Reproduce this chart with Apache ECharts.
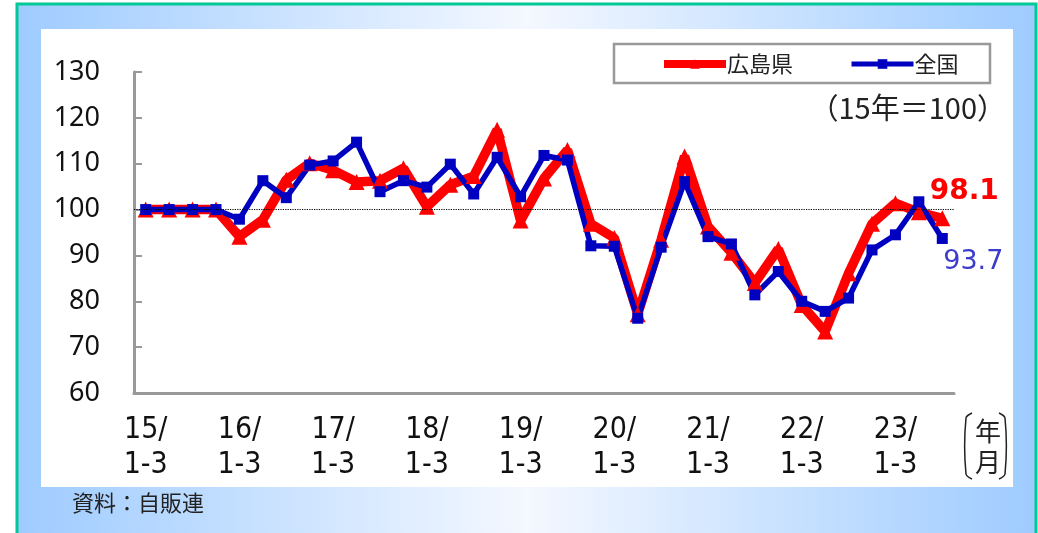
<!doctype html>
<html>
<head>
    <meta charset="utf-8">
    <title>新車登録台数</title>
    <script src="https://cdn.jsdelivr.net/npm/echarts@6/dist/echarts.min.js"></script>
    <style>
        body { margin: 0; background: #fff; }
        #main { width: 1038px; height: 533px; }
    </style>
</head>
<body>
    <div id="main"></div>
</body>
<script type="text/javascript">
    // 年・四半期
    var years = ['15', '16', '17', '18', '19', '20', '21', '22', '23'];
    var quarters = ['1-3', '4-6', '7-9', '10-12'];
    // 広島県（15年=100）
    var hiroshima = [100, 100, 100, 100, 94.1, 97.8, 106.5, 110.1, 108.6, 106.0, 106.3, 109.0,
        100.6, 105.4, 107.3, 117.4, 97.6, 106.8, 113.0, 96.9, 93.8, 77.2, 93.4, 111.6,
        96.3, 90.6, 84.0, 91.4, 79.2, 73.4, 86.1, 96.9, 101.4, 99.4, 98.1];
    // 全国
    var zenkoku = [100, 100, 100, 100, 97.9, 106.3, 102.6, 109.7, 110.6, 114.7, 103.9, 106.3,
        104.9, 109.9, 103.4, 111.4, 102.8, 111.8, 110.8, 92.1, 92.0, 76.3, 91.8, 106.1,
        94.1, 92.5, 81.4, 86.5, 80.0, 77.8, 80.7, 91.2, 94.5, 101.7, 93.7];

    var categories = [];
    for (var i = 0; i < hiroshima.length; i++) {
        var y = years[Math.floor(i / 4)], q = quarters[i % 4];
        categories.push(y + '/' + q);
    }

    // 最新値だけラベルを付ける
    function withLastLabel(arr, label) {
        return arr.map(function (v, i) {
            if (i === arr.length - 1) return { value: v, label: label };
            return v;
        });
    }

    var jp = "'Noto Sans CJK JP', 'Noto Sans', sans-serif";
    var myChart = echarts.init(document.getElementById('main'));
    var option = {
        animation: false,
        graphic: [
            {
                type: 'rect', z: -10,
                shape: { x: 17, y: 4, width: 1019, height: 540 },
                style: {
                    fill: new echarts.graphic.LinearGradient(0, 0, 1, 0, [
                        { offset: 0, color: '#9ecbff' },
                        { offset: 0.5, color: '#f4f8ff' },
                        { offset: 1, color: '#9ecbff' }
                    ]),
                    stroke: '#00c896', lineWidth: 3
                }
            },
            {
                type: 'rect', z: -9,
                shape: { x: 41, y: 29, width: 972, height: 458 },
                style: { fill: '#ffffff' }
            },
            {
                type: 'rect', z: 1,
                shape: { x: 614, y: 44, width: 376, height: 39 },
                style: { fill: '#fff', stroke: '#999', lineWidth: 2.5 }
            },
            {
                type: 'text', z: 5, right: 32, top: 93,
                style: { text: '（15年＝100）', font: '29px ' + jp, fill: '#222' }
            },
            {
                type: 'text', z: 5, left: 72, top: 492,
                style: { text: '資料：自販連', font: '22px ' + jp, fill: '#222' }
            },
            {
                type: 'text', z: 5, left: 975, top: 416,
                style: { text: '年\n月', font: '26px ' + jp, fill: '#222', lineHeight: 31 }
            },
            {
                type: 'polyline', z: 5,
                shape: { points: [[972, 413], [966, 418], [966, 474], [972, 479]], smooth: 0.3 },
                style: { stroke: '#222', lineWidth: 1.5, fill: null }
            },
            {
                type: 'polyline', z: 5,
                shape: { points: [[999, 413], [1005, 418], [1005, 474], [999, 479]], smooth: 0.3 },
                style: { stroke: '#222', lineWidth: 1.5, fill: null }
            }
        ],
        legend: {
            left: 660, top: 53, padding: 0,
            itemWidth: 62, itemHeight: 12, itemGap: 56,
            textStyle: { fontSize: 22, fontFamily: jp, color: '#222', padding: [0, 0, 0, -4] },
            data: [
                { name: '広島県', lineStyle: { width: 8 } },
                { name: '全国', lineStyle: { width: 5 } }
            ]
        },
        grid: { left: 134, right: 84, top: 72, bottom: 140 },
        xAxis: {
            type: 'category',
            data: categories,
            boundaryGap: true,
            axisLine: { lineStyle: { color: '#999', width: 3 } },
            axisTick: { inside: true, length: 7, interval: 0, lineStyle: { color: '#999', width: 1.5 } },
            axisLabel: {
                interval: 0, margin: 20,
                fontSize: 30, lineHeight: 35, color: '#111',
                fontFamily: "'Liberation Sans Narrow', 'DejaVu Sans Condensed', sans-serif",
                formatter: function (v) {
                    var p = v.split('/');
                    return p[1] === quarters[0] ? p[0] + '/\n' + p[1] : '';
                }
            }
        },
        yAxis: {
            type: 'value',
            min: 60, max: 130, interval: 10,
            splitLine: { show: false },
            axisLine: { show: true, lineStyle: { color: '#999', width: 3 } },
            axisTick: { show: true, inside: true, length: 8, lineStyle: { color: '#999', width: 2 } },
            axisLabel: { margin: 34, fontSize: 27, color: '#111', fontFamily: "'Noto Sans', sans-serif" }
        },
        series: [
            {
                name: '広島県',
                type: 'line',
                data: withLastLabel(hiroshima, {
                    show: true, position: 'top', offset: [22, 0],
                    fontSize: 28, fontWeight: 'bold', color: '#ff0000',
                    fontFamily: "'DejaVu Sans', sans-serif"
                }),
                symbol: 'triangle', symbolSize: 16,
                lineStyle: { color: '#ff0000', width: 9.5 },
                itemStyle: { color: '#ff0000' },
                markLine: {
                    silent: true, symbol: 'none',
                    label: { show: false },
                    lineStyle: { color: '#000', type: 'dotted', width: 1.2 },
                    data: [{ yAxis: 100 }]
                }
            },
            {
                name: '全国',
                type: 'line',
                data: withLastLabel(zenkoku, {
                    show: true, position: 'bottom', offset: [31, 0],
                    fontSize: 27, color: '#3c3ccc',
                    fontFamily: "'DejaVu Sans', sans-serif"
                }),
                symbol: 'rect', symbolSize: 11,
                lineStyle: { color: '#0000c0', width: 5.5 },
                itemStyle: { color: '#0000c0' }
            }
        ]
    };
    myChart.setOption(option);
</script>
</html>
